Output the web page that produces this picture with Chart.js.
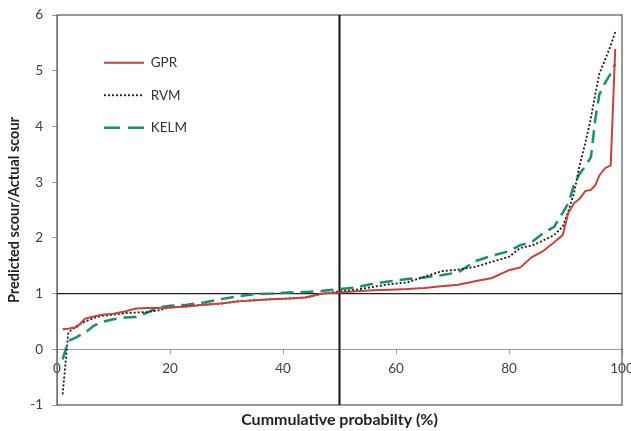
<!DOCTYPE html>
<html><head><meta charset="utf-8">
<script src="https://cdn.jsdelivr.net/npm/chart.js@4/dist/chart.umd.min.js"></script>
<style>html,body{margin:0;padding:0;background:#fff}#wrap{width:631px;height:431px}</style>
</head><body><div id="wrap"><canvas id="c" width="631" height="431"></canvas></div>
<script>
// Cumulative probability (%) positions of the read points
const probability = [1, 2, 3.5, 5, 6.5, 8, 10, 12, 14, 16, 18, 20, 23, 26, 29, 32, 35, 38, 41, 44, 47, 50, 53, 56, 59, 62, 65, 68, 71, 74, 77, 80, 82, 84, 86, 88, 89.5, 90.5, 91.5, 92.5, 93.5, 94.5, 95.3, 96, 97, 98, 98.8];
const gprValues = [0.36, 0.37, 0.40, 0.55, 0.59, 0.62, 0.64, 0.68, 0.73, 0.74, 0.74, 0.75, 0.77, 0.80, 0.82, 0.86, 0.88, 0.90, 0.91, 0.93, 1.00, 1.02, 1.04, 1.06, 1.07, 1.08, 1.10, 1.13, 1.16, 1.22, 1.28, 1.42, 1.47, 1.65, 1.76, 1.92, 2.05, 2.45, 2.62, 2.70, 2.84, 2.86, 2.95, 3.12, 3.25, 3.30, 5.39];
const rvmValues = [-0.81, 0.30, 0.42, 0.50, 0.56, 0.60, 0.62, 0.65, 0.66, 0.67, 0.70, 0.75, 0.77, 0.80, 0.82, 0.86, 0.88, 0.90, 0.91, 0.93, 1.00, 1.04, 1.07, 1.12, 1.17, 1.20, 1.30, 1.40, 1.43, 1.48, 1.57, 1.66, 1.82, 1.86, 1.95, 2.05, 2.20, 2.48, 2.80, 3.30, 3.70, 4.15, 4.60, 4.95, 5.20, 5.45, 5.70];
const kelmValues = [-0.18, 0.15, 0.22, 0.30, 0.42, 0.49, 0.54, 0.57, 0.58, 0.66, 0.75, 0.78, 0.80, 0.84, 0.90, 0.95, 0.99, 1.00, 1.02, 1.03, 1.05, 1.08, 1.11, 1.18, 1.22, 1.26, 1.29, 1.33, 1.38, 1.58, 1.68, 1.76, 1.87, 1.92, 2.08, 2.20, 2.45, 2.62, 2.95, 3.15, 3.28, 3.45, 4.15, 4.58, 4.78, 4.95, 5.12];
const seriesNames = ['GPR', 'RVM', 'KELM'];
const xTickValues = [0, 20, 40, 60, 80, 100];
const yTickValues = [-1, 0, 1, 2, 3, 4, 5, 6];
const ratioReference = 1;
const probabilityReference = 50;

const toPoints = (ys) => probability.map((x, i) => ({x: x, y: ys[i]}));
const FONT = 'Lato, "Open Sans", sans-serif';
const legendDashes = [[], [2, 2], [16, 8]];

const bgPlugin = {
  id: 'bg',
  beforeDraw(chart) {
    const ctx = chart.ctx;
    ctx.save(); ctx.fillStyle = '#fff'; ctx.fillRect(0, 0, chart.width, chart.height); ctx.restore();
  }
};
const framePlugin = {
  id: 'frame',
  beforeDatasetsDraw(chart) {
    const {ctx, chartArea: a} = chart;
    ctx.save(); ctx.strokeStyle = '#555'; ctx.lineWidth = 1.2;
    ctx.strokeRect(a.left, a.top, a.right - a.left, a.bottom - a.top);
    ctx.restore();
  }
};
const legendPlacer = {
  id: 'legendPlacer',
  afterLayout(chart) {
    const l = chart.legend; if (!l) return;
    const a = chart.chartArea;
    const w = l.width;
    l.left = a.left + 28; l.top = a.top + 22;
    l.right = l.left + w; l.bottom = l.top + 300;
  }
};

new Chart(document.getElementById('c'), {
  type: 'scatter',
  data: {
    datasets: [
      {label: seriesNames[0], data: toPoints(gprValues), showLine: true, borderColor: '#c8413b', backgroundColor: 'transparent', borderWidth: 2, pointRadius: 0, tension: 0, order: 1},
      {label: seriesNames[1], data: toPoints(rvmValues), showLine: true, borderColor: '#1a1a1a', backgroundColor: 'transparent', borderWidth: 1.8, borderDash: [2, 2], pointRadius: 0, tension: 0, order: 1},
      {label: seriesNames[2], data: toPoints(kelmValues), showLine: true, borderColor: '#1b8e6f', backgroundColor: 'transparent', borderWidth: 2.5, borderDash: [13, 7], pointRadius: 0, tension: 0, order: 1},
      {label: 'ref-y', data: [{x: xTickValues[0], y: ratioReference}, {x: xTickValues[xTickValues.length - 1], y: ratioReference}], showLine: true, borderColor: '#222', borderWidth: 1.3, pointRadius: 0, order: 5},
      {label: 'ref-x', data: [{x: probabilityReference, y: yTickValues[0]}, {x: probabilityReference, y: yTickValues[yTickValues.length - 1]}], showLine: true, borderColor: '#111', borderWidth: 2, pointRadius: 0, order: 5}
    ]
  },
  options: {
    responsive: false,
    animation: false,
    devicePixelRatio: 1,
    layout: {padding: {left: 0, right: 9, top: 15, bottom: 0}},
    plugins: {
      tooltip: {enabled: false},
      legend: {
        position: 'chartArea',
        align: 'start',
        labels: {
          filter: (item) => item.datasetIndex < 3,
          usePointStyle: true, pointStyle: 'line', pointStyleWidth: 40,
          boxHeight: 13, padding: 19,
          color: '#333', font: {family: FONT, size: 13.5},
          generateLabels: (chart) => {
            const items = Chart.defaults.plugins.legend.labels.generateLabels(chart);
            items.forEach((it) => {
              const ds = chart.data.datasets[it.datasetIndex];
              it.lineDash = legendDashes[it.datasetIndex] || ds.borderDash || [];
              it.lineWidth = ds.borderWidth;
              it.strokeStyle = ds.borderColor;
              it.pointStyle = 'line';
            });
            return items;
          }
        }
      }
    },
    scales: {
      x: {
        type: 'linear', position: {y: 0}, min: 0, max: 100,
        afterBuildTicks: (s) => { s.ticks = xTickValues.map(v => ({value: v})); },
        afterFit: (s) => { s.height = 0; s.paddingLeft = 0; s.paddingRight = 0; },
        grid: {drawOnChartArea: false, drawTicks: true, tickLength: 4, color: '#999'},
        border: {color: '#999', width: 1},
        ticks: {color: '#404040', font: {family: FONT, size: 13.5}, padding: 7, maxRotation: 0, autoSkip: false}
      },
      xTitle: {
        type: 'linear', axis: 'x', position: 'bottom', min: 0, max: 100,
        grid: {display: false}, border: {display: false}, ticks: {display: false},
        afterFit: (s) => { s.height = 26; s.paddingLeft = 0; s.paddingRight = 0; },
        title: {display: true, text: 'Cummulative probabilty (%)', color: '#222', font: {family: FONT, size: 16, weight: 'bold'}, padding: {top: 2, bottom: 2}}
      },
      y: {
        type: 'linear', position: 'left', min: -1, max: 6,
        afterBuildTicks: (s) => { s.ticks = yTickValues.map(v => ({value: v})); },
        afterFit: (s) => { s.width = 57; s.paddingTop = 0; s.paddingBottom = 0; },
        grid: {drawOnChartArea: false, drawTicks: true, tickLength: 5, color: '#999'},
        border: {color: '#999', width: 1},
        ticks: {color: '#404040', font: {family: FONT, size: 13.5}, padding: 9},
        title: {display: true, text: 'Predicted scour/Actual scour', color: '#222', font: {family: FONT, size: 14.5, weight: 'bold'}, padding: {top: 6, bottom: 2}}
      }
    }
  },
  plugins: [bgPlugin, framePlugin, legendPlacer]
});
</script>
</body></html>
